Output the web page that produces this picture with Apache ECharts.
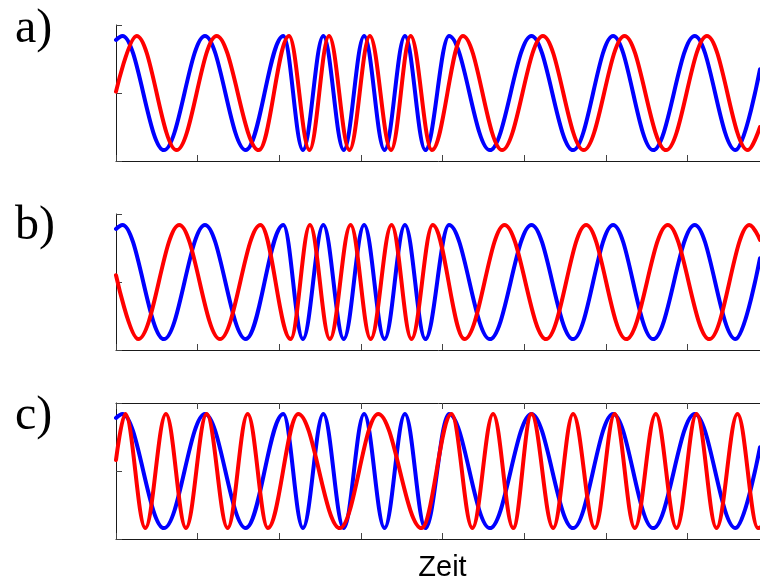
<!DOCTYPE html>
<html>
<head>
<meta charset="utf-8">
<script src="https://cdn.jsdelivr.net/npm/echarts@6/dist/echarts.min.js"></script>
<style>
  html, body { margin: 0; padding: 0; background: #ffffff; }
  #chart { width: 760px; height: 581px; }
</style>
</head>
<body>
<div id="chart"></div>
<script>
// Turning points (time, value) of each oscillation; the first and last entries are the values at the plot edges.
// Reference oscillation (blue), the same in all three panels.
const blueT = [0, 0.08, 0.588, 1.09, 1.59, 2.05, 2.29, 2.54, 2.79, 3.04, 3.29, 3.54, 3.79, 4.08, 4.58, 5.09, 5.60, 6.09, 6.58, 7.09, 7.59, 7.89];
const blueV = [0.78, 0.84, -0.84, 0.84, -0.84, 0.84, -0.84, 0.84, -0.84, 0.84, -0.84, 0.84, -0.84, 0.84, -0.84, 0.84, -0.84, 0.84, -0.84, 0.84, -0.84, 0.35];

// a) red follows blue with a small lag
const redAT = [0, 0.253, 0.743, 1.233, 1.75, 2.12, 2.37, 2.61, 2.86, 3.11, 3.37, 3.61, 3.87, 4.25, 4.73, 5.23, 5.73, 6.23, 6.74, 7.24, 7.74, 7.89];
const redAV = [0.02, 0.84, -0.84, 0.84, -0.84, 0.84, -0.84, 0.84, -0.84, 0.84, -0.84, 0.84, -0.84, 0.84, -0.84, 0.84, -0.84, 0.84, -0.84, 0.84, -0.84, -0.50];

// b) red roughly in antiphase
const redBT = [0, 0.273, 0.775, 1.274, 1.77, 2.14, 2.376, 2.62, 2.874, 3.12, 3.376, 3.62, 3.88, 4.27, 4.76, 5.27, 5.76, 6.25, 6.76, 7.27, 7.76, 7.89];
const redBV = [0.10, -0.84, 0.84, -0.84, 0.84, -0.84, 0.84, -0.84, 0.84, -0.84, 0.84, -0.84, 0.84, -0.84, 0.84, -0.84, 0.84, -0.84, 0.84, -0.84, 0.84, 0.62];

// c) red at the inverse rhythm (fast where blue is slow, slow where blue is fast)
const redCT = [0, 0.114, 0.359, 0.612, 0.857, 1.111, 1.368, 1.613, 1.86, 2.233, 2.743, 3.213, 3.744, 4.11, 4.366, 4.62, 4.866, 5.09, 5.356, 5.60, 5.866, 6.11, 6.356, 6.613, 6.867, 7.112, 7.357, 7.614, 7.865, 7.89];
const redCV = [0.16, 0.84, -0.84, 0.84, -0.84, 0.84, -0.84, 0.84, -0.84, 0.84, -0.84, 0.84, -0.84, 0.84, -0.84, 0.84, -0.84, 0.84, -0.84, 0.84, -0.84, 0.84, -0.84, 0.84, -0.84, 0.84, -0.84, 0.84, -0.84, -0.83];

const panelLabels = ['a)', 'b)', 'c)'];
const xAxisName = 'Zeit';
const xMin = 0, xMax = 8, xStep = 1;
const yMin = -1, yMax = 1, yStep = 1;

const BLUE = '#0000ff';
const RED = '#ff0000';
const AXIS = '#1a1a1a';
const TICK = '#444444';

const pairs = (t, v) => t.map((x, i) => [x, v[i]]);

// The plot area runs a little past the right edge of the page.
const gridTops = [25, 214, 403];
const gridH = 136;
const grids = gridTops.map(top => ({
  left: 116, width: 653, top: top, height: gridH,
  outerBoundsMode: 'none'
}));

function baseX(gridIndex, position, extra) {
  return Object.assign({
    type: 'value', gridIndex: gridIndex, position: position,
    min: xMin, max: xMax, interval: xStep,
    axisLine: { show: true, onZero: false, lineStyle: { color: AXIS, width: 1 } },
    axisTick: { show: true, inside: true, length: 6, lineStyle: { color: TICK, width: 1 } },
    axisLabel: { show: false },
    splitLine: { show: false }
  }, extra || {});
}

const xAxes = [
  baseX(0, 'bottom'),
  baseX(1, 'bottom'),
  baseX(2, 'bottom', {
    name: xAxisName, nameLocation: 'middle', nameGap: 14,
    nameTextStyle: { fontFamily: 'Liberation Sans', fontSize: 29, color: '#000' }
  }),
  baseX(2, 'top')
];

const yAxes = [0, 1, 2].map(g => ({
  type: 'value', gridIndex: g, position: 'left',
  min: yMin, max: yMax, interval: yStep,
  axisLine: { show: true, onZero: false, lineStyle: { color: AXIS, width: 1 } },
  axisTick: { show: true, inside: true, length: 6, lineStyle: { color: TICK, width: 1 } },
  axisLabel: { show: false },
  splitLine: { show: false }
}));

function curve(data, color, xi, yi) {
  return {
    type: 'line', data: data, xAxisIndex: xi, yAxisIndex: yi,
    smooth: 0.363, smoothMonotone: 'x',
    showSymbol: false, symbol: 'none',
    lineStyle: { color: color, width: 4, cap: 'round', join: 'round' },
    clip: true, silent: true, animation: false
  };
}

const series = [
  curve(pairs(blueT, blueV), BLUE, 0, 0),
  curve(pairs(redAT, redAV), RED, 0, 0),
  curve(pairs(blueT, blueV), BLUE, 1, 1),
  curve(pairs(redBT, redBV), RED, 1, 1),
  curve(pairs(blueT, blueV), BLUE, 2, 2),
  curve(pairs(redCT, redCV), RED, 2, 2)
];

const labelCenters = [29, 226, 416];
const graphic = panelLabels.map((txt, i) => ({
  type: 'text', left: 15, top: labelCenters[i] - 24,
  style: { text: txt, font: '48px "Liberation Serif"', fill: '#000', textVerticalAlign: 'top' },
  silent: true
}));

const chart = echarts.init(document.getElementById('chart'), null, { renderer: 'canvas' });
chart.setOption({
  animation: false,
  backgroundColor: '#ffffff',
  grid: grids,
  xAxis: xAxes,
  yAxis: yAxes,
  series: series,
  graphic: graphic
});
</script>
</body>
</html>
